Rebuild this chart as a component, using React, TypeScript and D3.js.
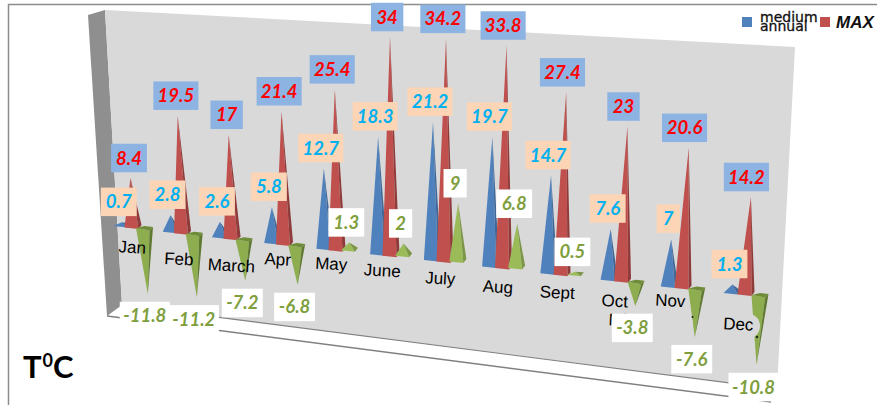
import React from "react";
import * as d3 from "d3";

const WIDTH = 877;
const HEIGHT = 405;

// Monthly air temperature, degrees Celsius
const months = ["Jan", "Feb", "March", "Apr", "May", "June", "July", "Aug", "Sept", "Oct", "Nov", "Dec"];
const mediumAnnual = [0.7, 2.8, 2.6, 5.8, 12.7, 18.3, 21.2, 19.7, 14.7, 7.6, 7, 1.3];
const maxValues = [8.4, 19.5, 17, 21.4, 25.4, 34, 34.2, 33.8, 27.4, 23, 20.6, 14.2];
const minValues = [-11.8, -11.2, -7.2, -6.8, 1.3, 2, 9, 6.8, 0.5, -3.8, -7.6, -10.8];

// Hand placement of the month captions relative to each month's base point
const monthCaptionShift: [number, number][] = [
  [-1, 25], [-4, 31], [-1, 32], [-7, 20], [-6, 19], [-9, 20],
  [-5, 22], [-6, 24], [-5, 23], [-8, 25], [-13, 18], [-8, 35],
];

// The chart sits in a tilted 3D box, so each axis runs through a perspective scale
const monthX = d3.scaleLinear().domain([0, 2, 4, 6, 8, 10, 11]).range([133, 232, 337, 445, 562, 683, 746]);
const monthY = d3.scaleLinear().domain([0, 6, 11]).range([228, 262, 295]);
const unitPx = d3.scaleLinear().domain([0, 5, 11]).range([5.95, 6.45, 6.9]);
const lean = d3.scaleLinear().domain([0, 11]).range([-0.05, 0.05]);
const blueDx = d3.scaleLinear().domain([0, 11]).range([-11, -14]);
const greenDx = d3.scaleLinear().domain([0, 11]).range([11.5, 14]);
const redLabelDx = d3.scaleLinear().domain([0, 11]).range([-1.5, -4.5]);
// Below the floor of the row the perspective foreshortens a little
const belowZero = 0.94;

const pts = (p: number[][]) => p.map((q) => q.join(",")).join(" ");

type Shades = { front: string; side: string; top?: string };
const BLUE: Shades = { front: "#4F81BD", side: "#3F6797" };
const RED: Shades = { front: "#C0504D", side: "#8F3B39" };
const GREEN: Shades = { front: "#9BBB59", side: "#7C9647" };
const GREEN_DOWN: Shades = { front: "#8DAD4F", side: "#5F7A30", top: "#6F8C38" };

function apexOf(i: number, dx: number, dy: number, value: number) {
  const h = value * unitPx(i) * (value < 0 ? belowZero : 1);
  return { x: monthX(i) + dx + lean(i) * h, y: monthY(i) + dy - h };
}

function Cone({ i, value, dx, dy, shades }: { i: number; value: number; dx: number; dy: number; shades: Shades }) {
  const cx = monthX(i) + dx;
  const by = monthY(i) + dy;
  const a = apexOf(i, dx, dy, value);
  if (value < 0) {
    const l = [cx - 8.5, by];
    const f = [cx + 5, by + 2.5];
    const r = [cx + 8.5, by - 1];
    return (
      <g>
        <polygon points={pts([l, f, [a.x, a.y]])} fill={shades.front} />
        <polygon points={pts([f, r, [a.x, a.y]])} fill={shades.side} />
        <polygon points={pts([l, f, r, [cx, by - 2]])} fill={shades.top} />
      </g>
    );
  }
  const l = [cx - 8.5, by - 0.5];
  const f = [cx + 5.5, by + 1];
  const r = [cx + 8.5, by - 3];
  return (
    <g>
      <polygon points={pts([l, f, [a.x, a.y]])} fill={shades.front} />
      <polygon points={pts([f, r, [a.x, a.y]])} fill={shades.side} />
    </g>
  );
}

function labelWidth(text: string) {
  let w = 14;
  for (const c of text) w += c === "." ? 3.5 : c === "-" ? 5 : 9.2;
  return w;
}

function ValueLabel({ x, y, value, fill, color }: { x: number; y: number; value: number; fill: string; color: string }) {
  const text = String(value);
  const w = labelWidth(text);
  return (
    <g>
      <rect x={x - w / 2} y={y - 14.25} width={w} height={28.5} fill={fill} />
      <text x={x} y={y + 6.5} textAnchor="middle" fontFamily="Lato" fontStyle="italic" fontWeight={700} fontSize={18.5} fill={color}>
        {text}
      </text>
    </g>
  );
}

export default function App() {
  const idx = d3.range(months.length);
  return (
    <svg width={WIDTH} height={HEIGHT} style={{ position: "absolute", left: 0, top: 0, background: "#fff" }}>
      {/* outer frame */}
      <path d={`M8.5 ${HEIGHT}V4.5H${WIDTH}`} fill="none" stroke="#8C8C8C" strokeWidth={1.5} />

      {/* box: floor, side wall, back wall */}
      <polygon points="107,316 122,305 777,389 771,402" fill="#fff" />
      <polygon points="88,15 105,10 122,305 107,316" fill="#8F8F8F" />
      <polygon points="105,10 795,47 777,389 122,305" fill="#D9D9D9" />
      <path d="M122 305L777 389" stroke="#808080" strokeWidth={1.2} fill="none" />
      <path d="M107 316L771 402" stroke="#808080" strokeWidth={1.5} fill="none" />

      {/* pyramids, one row per month */}
      {idx.map((i) => (
        <g key={months[i]}>
          <Cone i={i} value={mediumAnnual[i]} dx={blueDx(i)} dy={-1.5} shades={BLUE} />
          <Cone i={i} value={maxValues[i]} dx={0} dy={0} shades={RED} />
        </g>
      ))}
      {idx.map((i) => (
        <Cone key={months[i]} i={i} value={minValues[i]} dx={greenDx(i)} dy={0} shades={minValues[i] < 0 ? GREEN_DOWN : GREEN} />
      ))}

      {/* wall-coloured patches left behind around the Nov and Dec captions */}
      <ellipse cx={687} cy={324} rx={6} ry={9} fill="#D9D9D9" />
      <ellipse cx={749} cy={326} rx={11} ry={12} fill="#D9D9D9" />
      <circle cx={692.5} cy={317} r={1} fill="#222" />
      <circle cx={757} cy={337} r={1.2} fill="#222" />

      {/* month captions */}
      {idx.map((i) => {
        const x = monthX(i) + monthCaptionShift[i][0];
        const y = monthY(i) + monthCaptionShift[i][1];
        return (
          <text key={months[i]} transform={`translate(${x},${y}) rotate(3)`} textAnchor="middle" fontFamily="Liberation Sans" fontSize={17} fill="#000">
            {months[i]}
          </text>
        );
      })}
      <text transform="translate(622,326) rotate(3)" textAnchor="middle" fontFamily="Liberation Sans" fontSize={17} fill="#000">Min</text>

      {/* value labels */}
      {idx.map((i) => {
        const a = apexOf(i, 0, 0, maxValues[i]);
        return <ValueLabel key={months[i]} x={a.x + redLabelDx(i)} y={a.y - 20} value={maxValues[i]} fill="#8DB3E2" color="#FF0000" />;
      })}
      {idx.map((i) => {
        const a = apexOf(i, blueDx(i), -1.5, mediumAnnual[i]);
        return <ValueLabel key={months[i]} x={a.x - 3} y={a.y - 20.5} value={mediumAnnual[i]} fill="#FBD5B5" color="#00B0F0" />;
      })}
      {idx.map((i) => {
        const a = apexOf(i, greenDx(i), 0, minValues[i]);
        return (
          <ValueLabel key={months[i]} x={a.x - 3} y={a.y + (minValues[i] < 0 ? 22 : -20)} value={minValues[i]} fill="#FFFFFF" color="#7F9F3E" />
        );
      })}

      {/* legend */}
      <rect x={742} y={17} width={10} height={10} fill="#4F81BD" />
      <text fontFamily="DejaVu Sans" fontSize={14} fill="#111" stroke="#111" strokeWidth={0.3}>
        <tspan x={760} y={22}>medium</tspan>
        <tspan x={760} y={31}>annual</tspan>
      </text>
      <rect x={820} y={17} width={10} height={10} fill="#C0504D" />
      <text x={836} y={28} fontFamily="Liberation Sans" fontStyle="italic" fontWeight={700} fontSize={17} fill="#111">MAX</text>

      {/* unit caption */}
      <text x={23} y={378} fontFamily="Lato" fontWeight={700} fontSize={31} fill="#000">
        T<tspan dy={-11} dx={1} fontSize={18}>0</tspan><tspan dy={11}>C</tspan>
      </text>
    </svg>
  );
}
